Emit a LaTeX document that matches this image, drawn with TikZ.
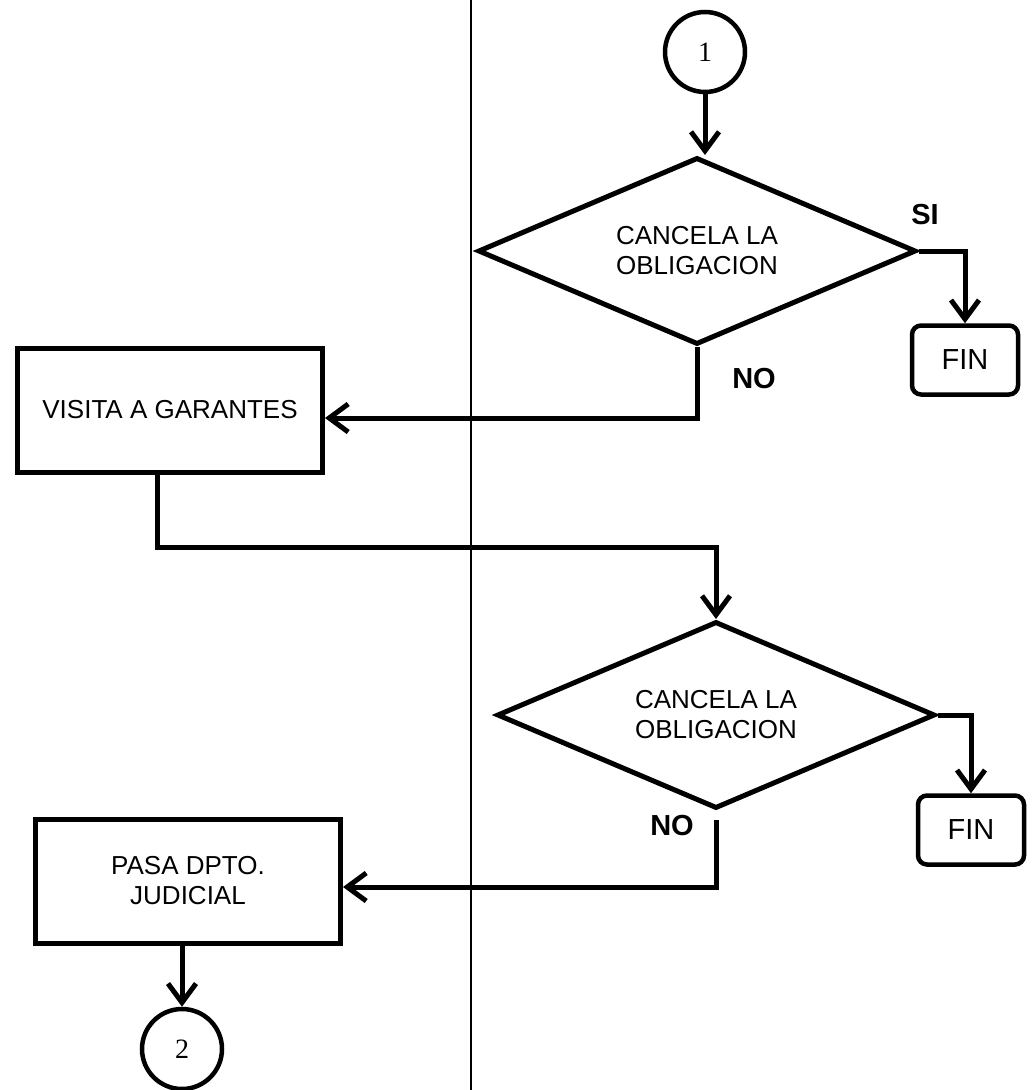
\documentclass[tikz,border=0pt]{standalone}
\usepackage{fontspec}
\setmainfont{Liberation Sans}
\newfontfamily\numfont{Liberation Serif}
\usetikzlibrary{shapes.geometric,arrows.meta}

\begin{document}
\begin{tikzpicture}[x=1pt,y=-1pt,
  txt/.style={font=\fontsize{26}{30}\selectfont},
  proc/.style={txt, draw, line width=5pt, minimum width=305pt, minimum height=124pt,
    align=center, inner sep=0pt},
  term/.style={draw, line width=4.5pt, rounded corners=9pt, minimum width=106pt,
    minimum height=69pt, inner sep=0pt, font=\fontsize{29}{32}\selectfont},
  decision/.style={txt, diamond, aspect=2.4, draw, line width=5pt, minimum width=438pt,
    minimum height=187pt, inner sep=0pt, align=center},
  conn/.style={circle, draw, line width=4.5pt, minimum size=80pt, inner sep=0pt,
    font=\numfont\fontsize{28}{30}\selectfont},
  lbl/.style={font=\bfseries\fontsize{29}{32}\selectfont, inner sep=0pt},
  flow/.style={line width=5pt, -{Straight Barb[length=19pt,width=28pt]}}
]
\useasboundingbox (0,0) rectangle (1034,1090);
\fill[white] (0,0) rectangle (1034,1090);

% lane separator
\coordinate (laneTop) at (471,0);
\coordinate (laneBot) at (471,1090);
\draw[line width=2pt] (laneTop) -- (laneBot);

% nodes
\node[conn] (c1) at (705,52) {1};
\node[decision] (d1) at (697,251) {CANCELA LA\\OBLIGACION};
\node[term] (fin1) at (965,360) {FIN};
\node[proc] (visita) at (170,410) {VISITA A GARANTES};
\node[decision] (d2) at (716,715) {CANCELA LA\\OBLIGACION};
\node[term] (fin2) at (971,830) {FIN};
\node[proc] (pasa) at (188,881) {PASA DPTO.\\JUDICIAL};
\node[conn] (c2) at (182,1049) {2};

% branch labels
\node[lbl] (si1) at (925,215) {SI};
\node[lbl] (no1) at (754,379) {NO};
\node[lbl] (no2) at (672,826) {NO};

% connectors
\draw[flow] (c1.south) -- (c1.south |- d1.north);
\draw[flow] (d1.east) -| (fin1.north);
\draw[flow] (d1.south) |- ([yshift=-8pt]visita.east);
\coordinate (bend1) at (157,547);
\draw[flow] (visita.south -| bend1) -- (bend1) -| (d2.north);
\draw[flow] (d2.east) -| (fin2.north);
\draw[flow, shorten <=9pt] (d2.south) |- ([yshift=-6pt]pasa.east);
\draw[flow] (pasa.south -| c2.north) -- (c2.north);
\end{tikzpicture}
\end{document}
